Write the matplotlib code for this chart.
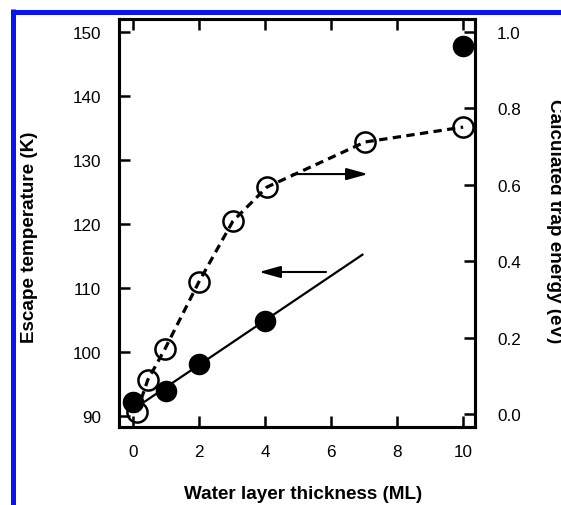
import matplotlib.pyplot as plt
from matplotlib.lines import Line2D

plt.rcParams["font.family"] = ["Liberation Sans", "DejaVu Sans"]

# escape temperature (left axis), filled circles
thick_T = [0.0, 1.0, 2.0, 4.0, 10.0]
escape_T = [92.2, 93.9, 98.1, 104.8, 147.8]

# linear fit drawn through the filled circles
fit_x = [0.0, 6.95]
fit_T = [91.0, 115.2]

# calculated trap energy (right axis), open circles
thick_E = [0.12, 0.45, 0.97, 2.0, 3.03, 4.06, 7.03, 10.0]
trap_E = [0.005, 0.089, 0.17, 0.346, 0.505, 0.594, 0.712, 0.751]

x_ticks = [0, 2, 4, 6, 8, 10]
left_ticks = [90, 100, 110, 120, 130, 140, 150]
right_ticks = [0.0, 0.2, 0.4, 0.6, 0.8, 1.0]
right_labels = ["0.0", "0.2", "0.4", "0.6", "0.8", "1.0"]

fig = plt.figure(figsize=(5.61, 5.06), dpi=100, facecolor="white")

# blue frame pieces from the page scan
fig.add_artist(Line2D([12.5 / 561, 1.0], [1 - 12.5 / 506] * 2, color="#0a14f0",
                      lw=3.6, transform=fig.transFigure, solid_capstyle="butt"))
fig.add_artist(Line2D([12.5 / 561] * 2, [0.0, 1 - 10 / 506], color="#0a14f0",
                      lw=3.6, transform=fig.transFigure, solid_capstyle="butt"))

ax = fig.add_axes([119 / 561, 78 / 506, 356 / 561, 408 / 506])
ax2 = ax.twinx()

ax.set_xlim(-0.42, 10.36)
ax.set_ylim(88.28, 152.03)
ax2.set_ylim(-0.034, 1.034)

ax.plot(fit_x, fit_T, color="black", lw=1.6, zorder=2)
ax.plot(thick_T, escape_T, "o", color="black", ms=14.5, zorder=4, clip_on=False)

ax2.plot(thick_E, trap_E, color="black", lw=2.3, linestyle=(0, (2.6, 1.7)),
         zorder=2)
ax2.plot(thick_E, trap_E, "o", mfc="none", mec="black", mew=1.8, ms=14.5,
         zorder=3, clip_on=False)

arrow = dict(arrowstyle="-|>,head_length=1.3,head_width=0.36", color="black",
             lw=1.5, shrinkA=0, shrinkB=0, mutation_scale=10)
ax.annotate("", xy=(7.12, 127.8), xytext=(4.85, 127.8), arrowprops=arrow)
ax.annotate("", xy=(3.82, 112.5), xytext=(5.85, 112.5), arrowprops=arrow)

ax.set_xticks(x_ticks)
ax.set_yticks(left_ticks)
ax2.set_yticks(right_ticks)
ax2.set_yticklabels(right_labels)

ax.tick_params(axis="x", direction="in", top=True, length=8, width=1.8,
               pad=12.5, labelsize=12.3)
ax.tick_params(axis="y", direction="in", right=False, length=8, width=1.8,
               pad=13, labelsize=12.3)
ax2.tick_params(axis="y", direction="in", length=8, width=1.8, pad=16,
                labelsize=12.3)

for a in (ax, ax2):
    for s in a.spines.values():
        s.set_linewidth(2.2)

ax.set_xlabel("Water layer thickness (ML)", fontsize=13.6, fontweight="bold",
              va="center")
ax.xaxis.set_label_coords(0.517, -0.164)
ax.set_ylabel("Escape temperature (K)", fontsize=13.6, fontweight="bold",
              va="center")
ax.yaxis.set_label_coords(-0.25, 0.468)
ax2.set_ylabel("Calculated trap energy (eV)", fontsize=13.6, fontweight="bold",
               rotation=-90, va="center")
ax2.yaxis.set_label_coords(1.222, 0.507)

fig.savefig("out.png", dpi=100)
